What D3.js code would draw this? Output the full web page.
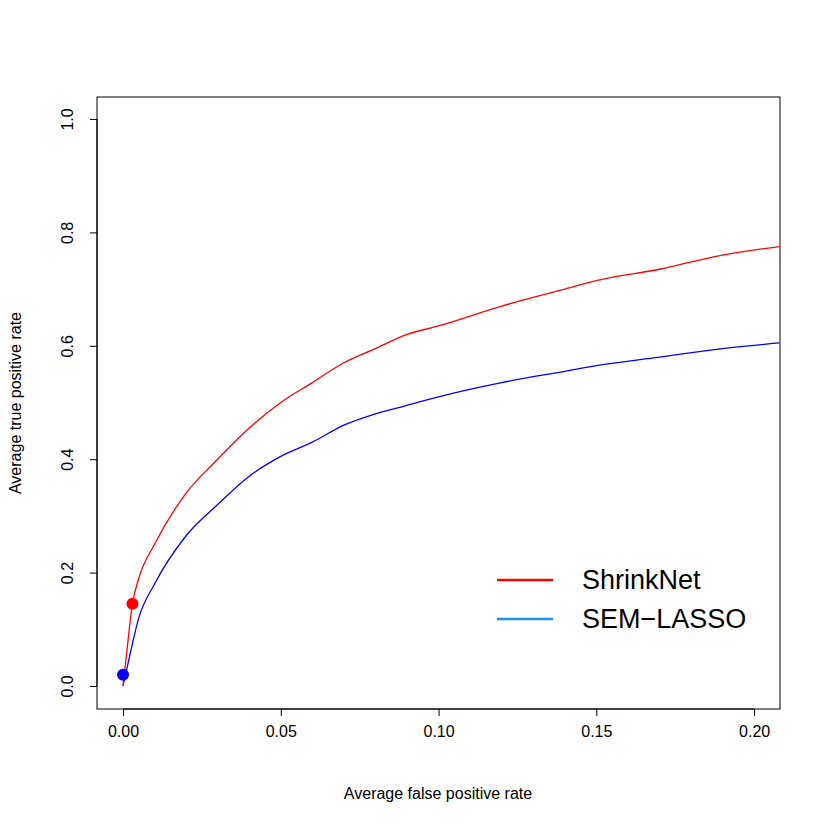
<!DOCTYPE html>
<html><head><meta charset="utf-8">
<script src="https://cdn.jsdelivr.net/npm/d3@7"></script>
<style>body{margin:0;background:#fff}</style>
</head><body>
<svg width="830" height="830"></svg>
<script>
// curves
var shrinkFpr = [0, 0.001, 0.003, 0.005, 0.01, 0.02, 0.03, 0.04, 0.05, 0.06, 0.07, 0.08, 0.09, 0.10, 0.12, 0.14, 0.15, 0.17, 0.19, 0.208];
var shrinkTpr = [0, 0.05, 0.145, 0.19, 0.25, 0.34, 0.40, 0.455, 0.50, 0.535, 0.57, 0.595, 0.62, 0.635, 0.67, 0.70, 0.715, 0.735, 0.76, 0.775];
var semFpr = [0, 0.002, 0.005, 0.01, 0.02, 0.03, 0.04, 0.05, 0.06, 0.07, 0.08, 0.09, 0.10, 0.12, 0.14, 0.15, 0.17, 0.19, 0.208];
var semTpr = [0, 0.05, 0.12, 0.18, 0.265, 0.32, 0.37, 0.405, 0.43, 0.46, 0.48, 0.495, 0.51, 0.535, 0.555, 0.565, 0.58, 0.595, 0.605];
var dots = [{x: 0.003, y: 0.145, c: "red"}, {x: 0, y: 0.02, c: "blue"}];
var xTicks = [0, 0.05, 0.10, 0.15, 0.20];
var yTicks = [0, 0.2, 0.4, 0.6, 0.8, 1.0];
var legendNames = ["ShrinkNet", "SEM\u2212LASSO"];
var legendColors = ["red", "#1E90FF"];

var svg = d3.select("svg");
var x = d3.scaleLinear().domain([-0.00824, 0.2082]).range([97, 780]);
var y = d3.scaleLinear().domain([-0.0406, 1.0388]).range([709, 97]);
var font = "Liberation Sans, Arial, sans-serif";

svg.append("rect").attr("x", 97).attr("y", 97).attr("width", 683).attr("height", 612)
    .attr("fill", "none").attr("stroke", "black");

var xa = svg.append("g").attr("transform", "translate(0,709)")
    .call(d3.axisBottom(x).tickValues(xTicks).tickFormat(d3.format(".2f")).tickSize(7).tickPadding(10));
xa.select(".domain").attr("d", "M" + x(0) + ",0H" + x(0.2));
var ya = svg.append("g").attr("transform", "translate(97,0)")
    .call(d3.axisLeft(y).tickValues(yTicks).tickFormat(d3.format(".1f")).tickSize(7));
ya.select(".domain").attr("d", "M0," + y(0) + "V" + y(1));
ya.selectAll(".tick text").attr("x", null).attr("dy", null)
    .attr("transform", "translate(-24,0) rotate(-90)").attr("text-anchor", "middle");
svg.selectAll(".tick text").style("font-size", "16px").style("font-family", font);
svg.selectAll(".domain, .tick line").attr("stroke", "black");

svg.append("text").attr("x", 438).attr("y", 799).attr("text-anchor", "middle")
    .style("font-size", "16px").style("font-family", font).text("Average false positive rate");
svg.append("text").attr("transform", "translate(21,403) rotate(-90)").attr("text-anchor", "middle")
    .style("font-size", "16px").style("font-family", font).text("Average true positive rate");

var line = d3.line().x(function(d) { return x(d[0]); }).y(function(d) { return y(d[1]); }).curve(d3.curveMonotoneX);
svg.append("path").datum(d3.zip(semFpr, semTpr)).attr("d", line).attr("fill", "none").attr("stroke", "blue").attr("stroke-width", 1.3);
svg.append("path").datum(d3.zip(shrinkFpr, shrinkTpr)).attr("d", line).attr("fill", "none").attr("stroke", "red").attr("stroke-width", 1.3);

svg.selectAll(".dot").data(dots).enter().append("circle")
    .attr("cx", function(d) { return x(d.x); }).attr("cy", function(d) { return y(d.y); })
    .attr("r", 6).attr("fill", function(d) { return d.c; });

legendNames.forEach(function(n, i) {
    var ly = 580 + i * 39;
    svg.append("line").attr("x1", 497).attr("x2", 553).attr("y1", ly).attr("y2", ly)
        .attr("stroke", legendColors[i]).attr("stroke-width", 2.5);
    svg.append("text").attr("x", 582).attr("y", ly).attr("dy", "0.35em")
        .style("font-size", "27px").style("font-family", font).text(n);
});
</script>
</body></html>
